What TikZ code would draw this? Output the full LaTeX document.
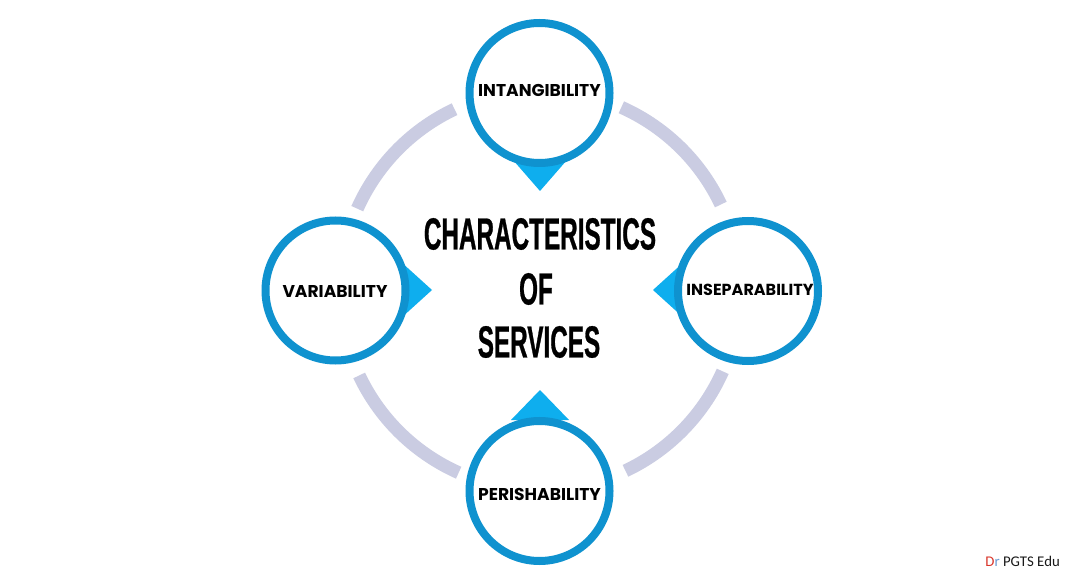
\documentclass[tikz,border=0pt]{standalone}
\usepackage{fontspec}
\setmainfont{Poppins}
\newfontfamily\titlefont[FakeStretch=0.54,BoldFeatures={FakeBold=0.6}]{Liberation Sans}
\newfontfamily\markfont{Carlito}
\definecolor{ringblue}{HTML}{0F92CF}
\definecolor{tipblue}{HTML}{0EAEEE}
\definecolor{arcgrey}{HTML}{CACCE2}
\definecolor{markred}{HTML}{D9362B}
\definecolor{markblue}{HTML}{6C9BD2}
\tikzset{
  ring/.style={circle,draw=ringblue,line width=8pt,fill=white,minimum size=140pt,inner sep=0pt,text=black},
  ringlabel/.style={font=\bfseries\fontsize{17.1}{20}\selectfont,text=black,inner sep=0pt},
  tip/.style={fill=tipblue,draw=none},
  band/.style={draw=arcgrey,line width=13pt},
  heading/.style={font=\titlefont\bfseries\fontsize{45}{45}\selectfont,text=black,inner sep=0pt},
  wmark/.style={font=\markfont\fontsize{14.8}{17}\selectfont,text=black!90,inner sep=0pt}
}
\begin{document}
\begin{tikzpicture}[x=1pt,y=-1pt]
\useasboundingbox[fill=white] (0,0) rectangle (1080,580);
\coordinate (hub) at (540,290);
\foreach \r in {0,90,180,270}
  \draw[band,shift={(hub)},rotate=\r] plot[domain=25.3:66,samples=40,smooth] ({200*cos(\x)},{-200*sin(\x)});
% pointers
\fill[tip] (513,160) -- (567,160) -- (540,191) -- cycle;
\fill[tip] (511,420) -- (569,420) -- (540,390) -- cycle;
\fill[tip] (400,261) -- (400,319) -- (432,290) -- cycle;
\fill[tip] (685,261) -- (685,319) -- (653,290) -- cycle;
% rings
\node[ring] (intang) at (539.5,93) {};
\node[ring] (perish) at (539.5,491) {};
\node[ring] (varia) at (335.5,290.5) {};
\node[ring] (insep) at (748,291) {};
\node[ringlabel] (lintang) at (539.5,90.5) {INTANGIBILITY};
\node[ringlabel] (lperish) at (539.5,494) {PERISHABILITY};
\node[ringlabel] (lvaria) at (335,291.5) {VARIABILITY};
\node[ringlabel,font=\bfseries\fontsize{16}{20}\selectfont] (linsep) at (750,289.5) {INSEPARABILITY};
% heading
\node[heading] (h1) at (540,234) {CHARACTERISTICS};
\node[heading] (h2) at (536,289) {OF};
\node[heading] (h3) at (539,342) {SERVICES};
% watermark
\node[wmark,anchor=east] (dr) at (1060,561) {\textcolor{markred}{D}\textcolor{markblue}{r} PGTS Edu};
\end{tikzpicture}
\end{document}
